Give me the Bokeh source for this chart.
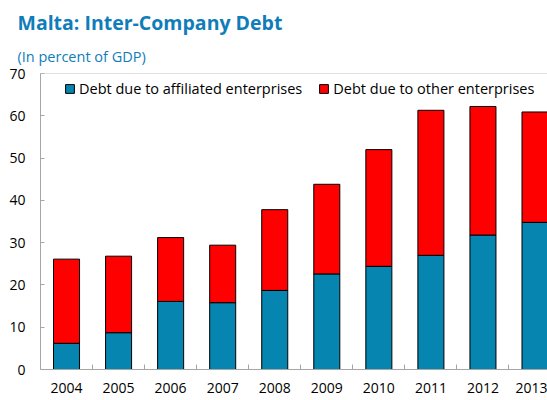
from bokeh.plotting import figure
from bokeh.models import Range1d, FixedTicker, Title, Span, ColumnDataSource
from bokeh.embed import file_html
from bokeh.resources import INLINE

years = [2004, 2005, 2006, 2007, 2008, 2009, 2010, 2011, 2012, 2013]
affiliated = [6.2, 8.7, 16.1, 15.8, 18.7, 22.6, 24.4, 27.0, 31.8, 34.8]
other = [19.9, 18.1, 15.1, 13.6, 19.1, 21.2, 27.6, 34.3, 30.4, 26.1]
series_names = ["Debt due to affiliated enterprises", "Debt due to other enterprises"]
y_ticks = [0, 10, 20, 30, 40, 50, 60, 70]

BLUE = "#0585AF"
RED = "#FF0000"
TITLE_BLUE = "#0F7DBA"
GRAY = "#A6A6A6"
FONT = "Open Sans"

source = ColumnDataSource(dict(x=years, aff=affiliated, oth=other))

p = figure(width=547, height=400, output_backend="svg", toolbar_location=None,
           title=None,
           x_range=Range1d(years[0] - 0.5, years[-1] + 0.24),
           y_range=Range1d(0, 70),
           min_border_left=40, min_border_right=0, min_border_top=73, min_border_bottom=31)

p.vbar_stack(["aff", "oth"], x="x", width=0.5, color=[BLUE, RED], line_color="black",
             line_width=1, source=source, legend_label=series_names)

p.outline_line_color = None
p.xgrid.grid_line_color = None
p.ygrid.grid_line_color = None
p.add_layout(Span(location=70, dimension="width", line_color="#BFBFBF", line_width=1))

# x axis
p.xaxis.ticker = FixedTicker(ticks=years, minor_ticks=[y + 0.5 for y in years])
p.xaxis.major_tick_line_color = None
p.xaxis.minor_tick_in = 5
p.xaxis.minor_tick_out = 0
p.xaxis.minor_tick_line_color = GRAY
p.xaxis.axis_line_color = GRAY
p.xaxis.major_label_text_font = FONT
p.xaxis.major_label_text_font_size = "14px"
p.xaxis.major_label_text_color = "black"
p.xaxis.major_label_standoff = 7

# y axis
p.yaxis.ticker = FixedTicker(ticks=y_ticks)
p.yaxis.major_tick_in = 4
p.yaxis.major_tick_out = 0
p.yaxis.major_tick_line_color = GRAY
p.yaxis.minor_tick_line_color = None
p.yaxis.axis_line_color = GRAY
p.yaxis.major_label_text_font = FONT
p.yaxis.major_label_text_font_size = "14px"
p.yaxis.major_label_text_color = "black"
p.yaxis.major_label_standoff = 15

# legend
leg = p.legend[0]
leg.orientation = "horizontal"
leg.location = (24, 271)
leg.padding = 0
leg.margin = 0
leg.spacing = 16
leg.border_line_color = None
leg.background_fill_alpha = 0
leg.glyph_width = 11
leg.glyph_height = 11
leg.label_standoff = 4
leg.label_text_font = FONT
leg.label_text_font_size = "14.5px"
leg.label_text_color = "black"

# titles (subtitle first = closest to the plot)
p.add_layout(Title(text="(In percent of GDP)", align="left", offset=-23, standoff=15,
                   text_font=FONT, text_font_size="14.5px", text_font_style="normal",
                   text_color=TITLE_BLUE), "above")
p.add_layout(Title(text="Malta: Inter-Company Debt", align="left", offset=-23, standoff=3,
                   text_font=FONT, text_font_size="19.5px", text_font_style="bold",
                   text_color=TITLE_BLUE), "above")

open("out.html", "w").write(file_html(p, INLINE))
